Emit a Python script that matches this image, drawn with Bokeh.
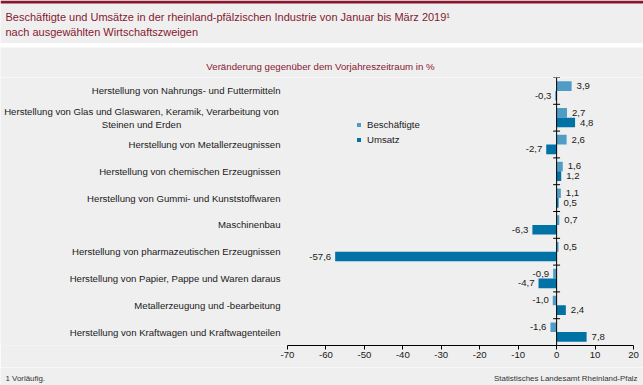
from bokeh.plotting import figure
from bokeh.models import (Range1d, FactorRange, FixedTicker, Label, BoxAnnotation,
                          Span, Legend, LegendItem, ColumnDataSource, Spacer)
from bokeh.layouts import column
from bokeh.transform import dodge
from bokeh.embed import file_html
from bokeh.resources import INLINE
from bokeh.core.properties import value

# ---------------- data ----------------
categories = [
    "Herstellung von Nahrungs- und Futtermitteln",
    "Herstellung von Glas und Glaswaren, Keramik, Verarbeitung von\nSteinen und Erden",
    "Herstellung von Metallerzeugnissen",
    "Herstellung von chemischen Erzeugnissen",
    "Herstellung von Gummi- und Kunststoffwaren",
    "Maschinenbau",
    "Herstellung von pharmazeutischen Erzeugnissen",
    "Herstellung von Papier, Pappe und Waren daraus",
    "Metallerzeugung und -bearbeitung",
    "Herstellung von Kraftwagen und Kraftwagenteilen",
]
beschaeftigte = [3.9, 2.7, 2.6, 1.6, 1.1, 0.7, 0.5, -0.9, -1.0, -1.6]
umsatz = [-0.3, 4.8, -2.7, 1.2, 0.5, -6.3, -57.6, -4.7, 2.4, 7.8]
series_names = ["Beschäftigte", "Umsatz"]
x_ticks = [-70, -60, -50, -40, -30, -20, -10, 0, 10, 20]

title_line1 = "Beschäftigte und Umsätze in der rheinland-pfälzischen Industrie von Januar bis März 2019¹"
title_line2 = "nach ausgewählten Wirtschaftszweigen"
subtitle = "Veränderung gegenüber dem Vorjahreszeitraum in %"
footnote = "1 Vorläufig."
source_note = "Statistisches Landesamt Rheinland-Pfalz"

# ---------------- style ----------------
W = 643
BG = "#efefef"
RED = "#86192f"
C_B = "#4f9dc5"
C_U = "#0072a6"
FONT = "Liberation Sans"
FS = "9.6px"
TXT = "#1a1a1a"
AX_L, AX_R = 287, 633          # pixel position of the value axis ends


def fmt(v):
    return ("%.1f" % v).replace(".", ",")


def blank(h):
    f = figure(width=W, height=h, output_backend="svg", toolbar_location=None,
               x_range=Range1d(0, W), y_range=Range1d(h, 0),
               x_axis_location=None, y_axis_location=None,
               min_border_left=0, min_border_right=0,
               min_border_top=0, min_border_bottom=0)
    f.background_fill_color = BG
    f.border_fill_color = BG
    f.outline_line_color = None
    f.xgrid.visible = False
    f.ygrid.visible = False
    return f


def label(f, text, x, y, size, color, align="left"):
    f.add_layout(Label(x=x, y=y, text=text, text_font=FONT, text_font_size=size,
                       text_color=color, text_align=align, text_baseline="middle"))


# ---- title block ----
fa = blank(43)
fa.add_layout(BoxAnnotation(left=0, right=W, top=0, bottom=3, fill_color=RED,
                            fill_alpha=1, line_color=None))
label(fa, title_line1, 5, 16.5, "11px", RED)
label(fa, title_line2, 5, 31.5, "11px", RED)

gap = Spacer(width=W, height=4)

# ---- subtitle block ----
fs_ = blank(30)
label(fs_, subtitle, 320, 19, "9.7px", RED, "center")

# ---- chart ----
k = (AX_R - AX_L) / (x_ticks[-1] - x_ticks[0])      # px per unit
x_start = x_ticks[0] - AX_L / k
x_end = x_ticks[-1] + (W - AX_R) / k

src = ColumnDataSource(dict(
    cat=categories,
    b=beschaeftigte,
    u=umsatz,
    b_lbl=[fmt(v) for v in beschaeftigte],
    u_lbl=[fmt(v) for v in umsatz],
    b_align=["left" if v >= 0 else "right" for v in beschaeftigte],
    u_align=["left" if v >= 0 else "right" for v in umsatz],
    b_off=[5 if v >= 0 else -4 for v in beschaeftigte],
    u_off=[5 if v >= 0 else -4 for v in umsatz],
    c_x=[x_ticks[0]] * len(categories),
    c_align=["center" if "\n" in c else "right" for c in categories],
    c_off=[-146 if "\n" in c else -7 for c in categories],
))

p = figure(width=W, height=290, output_backend="svg", toolbar_location=None,
           x_range=Range1d(x_start, x_end),
           y_range=FactorRange(factors=categories[::-1]),
           y_axis_location=None,
           min_border_left=0, min_border_right=0,
           min_border_top=0, min_border_bottom=22)
p.background_fill_color = BG
p.border_fill_color = BG
p.outline_line_color = None
p.xgrid.visible = False
p.ygrid.visible = False

rb = p.hbar(y=dodge("cat", 0.18, range=p.y_range), left=0, right="b", height=0.36,
            source=src, fill_color=C_B, line_color=None)
ru = p.hbar(y=dodge("cat", -0.18, range=p.y_range), left=0, right="u", height=0.36,
            source=src, fill_color=C_U, line_color=None)

p.text(x="b", y=dodge("cat", 0.18, range=p.y_range), text="b_lbl", source=src,
       text_align="b_align", x_offset="b_off", text_baseline="middle",
       text_font=value(FONT), text_font_size=value(FS), text_color=TXT)
p.text(x="u", y=dodge("cat", -0.18, range=p.y_range), text="u_lbl", source=src,
       text_align="u_align", x_offset="u_off", text_baseline="middle",
       text_font=value(FONT), text_font_size=value(FS), text_color=TXT)

# category labels
p.text(x="c_x", y="cat", text="cat", source=src, text_align="c_align", x_offset="c_off",
       text_baseline="middle", text_line_height=1.2,
       text_font=value(FONT), text_font_size=value(FS), text_color=TXT)

# zero axis with crossing ticks at category boundaries
p.add_layout(Span(location=0, dimension="height", line_color="black", line_width=1))
bounds = list(range(0, len(categories) + 1))
p.segment(x0=[-0.9] * len(bounds), x1=[0.9] * len(bounds), y0=bounds, y1=bounds,
          line_color="black", line_width=1)

p.xaxis.ticker = FixedTicker(ticks=x_ticks)
p.xaxis.bounds = (x_ticks[0], x_ticks[-1])
p.xaxis.major_label_overrides = {t: str(t) for t in x_ticks}
p.xaxis.axis_line_color = "black"
p.xaxis.major_tick_line_color = "black"
p.xaxis.major_tick_in = 0
p.xaxis.major_tick_out = 4
p.xaxis.minor_tick_line_color = None
p.xaxis.major_label_standoff = 2
p.xaxis.major_label_text_font = FONT
p.xaxis.major_label_text_font_size = FS
p.xaxis.major_label_text_color = TXT

legend = Legend(items=[LegendItem(label=series_names[0], renderers=[rb]),
                       LegendItem(label=series_names[1], renderers=[ru])],
                location=(356, 200), glyph_width=5, glyph_height=5, label_height=12,
                spacing=3, padding=0, margin=0, label_standoff=6,
                background_fill_alpha=0, border_line_alpha=0,
                label_text_font=FONT, label_text_font_size=FS, label_text_color=TXT)
p.add_layout(legend)

# ---- footer ----
fc = blank(18)
label(fc, footnote, 5, 11, "7.9px", "#333333")
label(fc, source_note, 637, 11, "7.9px", "#333333", "right")

page = column(fa, gap, fs_, p, fc, spacing=0)
open("out.html", "w").write(file_html(page, INLINE))
